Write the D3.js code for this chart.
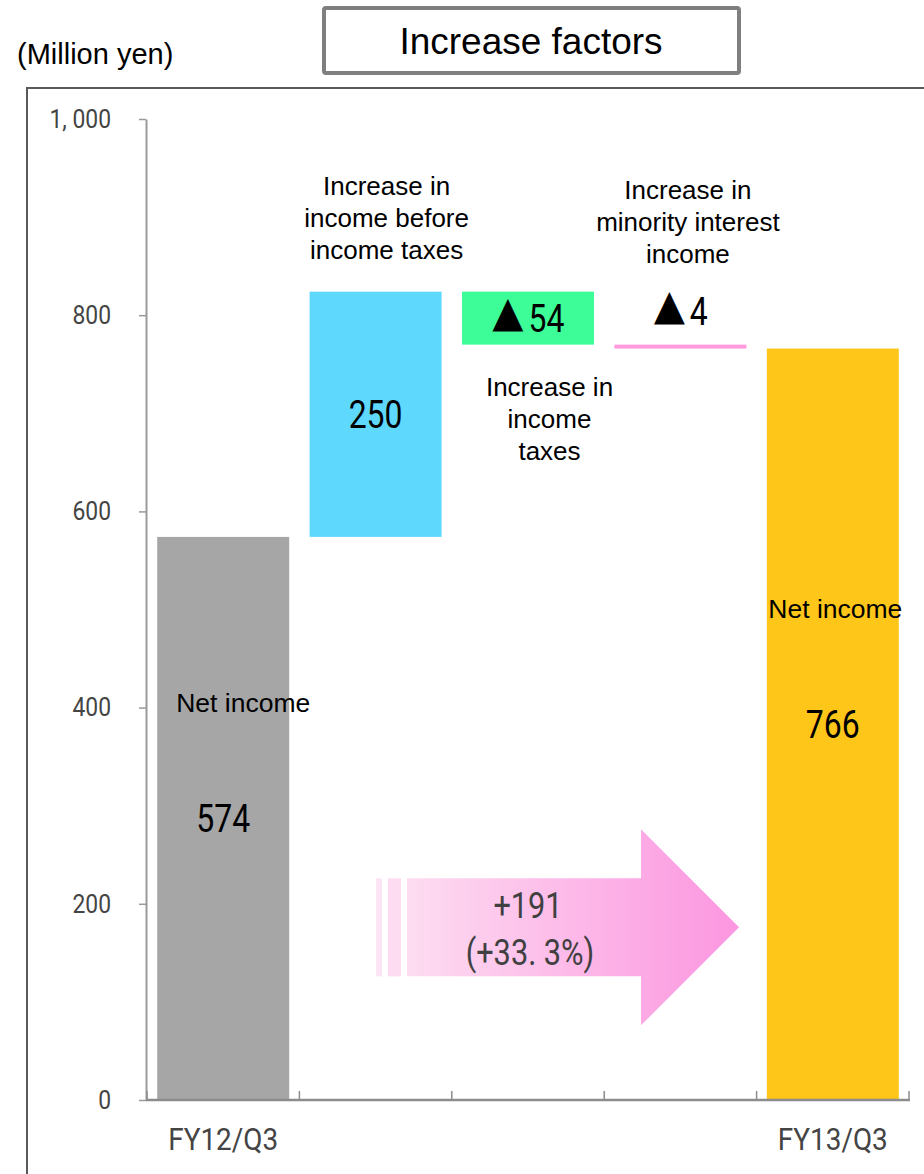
<!DOCTYPE html>
<html>
<head>
<meta charset="utf-8">
<script src="https://cdn.jsdelivr.net/npm/d3@7"></script>
<style>
  body { margin: 0; background: #fff; }
  svg { display: block; }
</style>
</head>
<body>
<svg id="chart" width="924" height="1174"></svg>
<script>
// ---- data ----
const categories = ["FY12/Q3", "Pretax income", "Income taxes", "Minority interest", "FY13/Q3"];
const axisLabels = ["FY12/Q3", "", "", "", "FY13/Q3"];
const kinds = ["total", "delta", "delta", "delta", "total"];
const amounts = [574, 250, -54, -4, 766];
const valueLabels = ["574", "250", "▲54", "▲4", "766"];
const barColors = ["#a6a6a6", "#5fd8fe", "#3dfd98", "#ff99dd", "#ffc61a"];
const factorNotes = [
  null,
  ["Increase in", "income before", "income taxes"],
  ["Increase in", "income", "taxes"],
  ["Increase in", "minority interest", "income"],
  null
];
const totalNote = "Net income";
const yTicks = [0, 200, 400, 600, 800, 1000];
const changeText = ["+191", "(+33. 3%)"];
const unitText = "(Million yen)";
const titleText = "Increase factors";

// ---- layout ----
const svg = d3.select("#chart");
const sans = "'Liberation Sans', Arial, sans-serif";
const narrow = "Roboto, 'Liberation Sans', sans-serif";
const cjk = "'Noto Sans CJK JP', sans-serif";

const x = d3.scaleBand()
  .domain(d3.range(categories.length))
  .range([147, 909])
  .paddingInner(0.134)
  .paddingOuter(0.067);

const y = d3.scaleLinear().domain([0, 1000]).range([1100, 119]);

// waterfall spans
let running = 0;
const bars = amounts.map((v, i) => {
  let lo, hi;
  if (kinds[i] === "total") { lo = 0; hi = v; running = v; }
  else { lo = running; hi = running + v; running = hi; }
  return { i, lo: Math.min(lo, hi), hi: Math.max(lo, hi), color: barColors[i], label: valueLabels[i] };
});

// outer frame
svg.append("rect")
  .attr("x", 27).attr("y", 88)
  .attr("width", 940).attr("height", 1120)
  .attr("fill", "none").attr("stroke", "#5a5a5a").attr("stroke-width", 2);

// title box
svg.append("rect")
  .attr("x", 324).attr("y", 8).attr("width", 415).attr("height", 65)
  .attr("rx", 2)
  .attr("fill", "#fff").attr("stroke", "#7f7f7f").attr("stroke-width", 4);
svg.append("text")
  .attr("x", 531).attr("y", 54)
  .attr("text-anchor", "middle")
  .attr("font-family", sans).attr("font-size", 37).attr("fill", "#000")
  .text(titleText);

svg.append("text")
  .attr("x", 17).attr("y", 64)
  .attr("font-family", sans).attr("font-size", 29).attr("fill", "#000")
  .text(unitText);

// y axis
const yAxis = svg.append("g")
  .attr("transform", "translate(146,0)")
  .call(d3.axisLeft(y).tickValues(yTicks).tickSize(7).tickSizeOuter(0)
    .tickFormat(d => d3.format(",")(d).replace(",", ", ")));
yAxis.select(".domain").attr("stroke", "#9a9a9a").attr("stroke-width", 2);
yAxis.selectAll(".tick line").attr("stroke", "#9a9a9a").attr("stroke-width", 1.5);
yAxis.selectAll(".tick text")
  .attr("x", -35 / 0.88)
  .attr("transform", "scale(0.88,1)")
  .attr("font-family", narrow).attr("font-size", 26).attr("fill", "#444");

// bars
svg.append("g").selectAll("rect")
  .data(bars)
  .join("rect")
  .attr("x", d => x(d.i))
  .attr("y", d => y(d.hi))
  .attr("width", x.bandwidth())
  .attr("height", d => y(d.lo) - y(d.hi))
  .attr("fill", d => d.color);

// x axis with category boundary ticks
const xAxisG = svg.append("g").attr("transform", "translate(0,1100)");
xAxisG.append("line")
  .attr("x1", 146).attr("x2", 910)
  .attr("stroke", "#8c8c8c").attr("stroke-width", 2.5);
const boundaries = d3.range(categories.length + 1).map(k => 147 + k * x.step());
xAxisG.selectAll("line.tk")
  .data(boundaries)
  .join("line")
  .attr("class", "tk")
  .attr("x1", d => d).attr("x2", d => d)
  .attr("y1", 0).attr("y2", -9)
  .attr("stroke", "#8c8c8c").attr("stroke-width", 1.5);
xAxisG.selectAll("text")
  .data(axisLabels.map((t, i) => ({ t, i })).filter(d => d.t))
  .join("text")
  .attr("transform", d => `translate(${x(d.i) + x.bandwidth() / 2},50) scale(0.9,1)`)
  .attr("text-anchor", "middle")
  .attr("font-family", narrow).attr("font-size", 31).attr("fill", "#444")
  .text(d => d.t);

// growth arrow from the first total to the last
const arrowMid = y(176), bodyHalf = 49, headHalf = 98;
const defs = svg.append("defs");
const grad = defs.append("linearGradient").attr("id", "arrowGrad")
  .attr("x1", "0%").attr("x2", "100%").attr("y1", "0%").attr("y2", "0%");
grad.append("stop").attr("offset", "0%").attr("stop-color", "#fddcf1");
grad.append("stop").attr("offset", "100%").attr("stop-color", "#fc96e0");
const ax0 = 407, axHead = 641, axTip = 739;
svg.append("rect").attr("x", 376).attr("y", arrowMid - bodyHalf)
  .attr("width", 6).attr("height", bodyHalf * 2).attr("fill", "#fde4f4");
svg.append("rect").attr("x", 388).attr("y", arrowMid - bodyHalf)
  .attr("width", 13).attr("height", bodyHalf * 2).attr("fill", "#fddcf1");
svg.append("path")
  .attr("d", d3.line()([
    [ax0, arrowMid - bodyHalf], [axHead, arrowMid - bodyHalf], [axHead, arrowMid - headHalf],
    [axTip, arrowMid], [axHead, arrowMid + headHalf], [axHead, arrowMid + bodyHalf],
    [ax0, arrowMid + bodyHalf]
  ]) + "Z")
  .attr("fill", "url(#arrowGrad)");
svg.append("text")
  .attr("transform", `translate(528,918) scale(0.83,1)`)
  .attr("text-anchor", "middle")
  .attr("font-family", narrow).attr("font-size", 37).attr("fill", "#404040")
  .text(changeText[0]);
svg.append("text")
  .attr("transform", `translate(530,965) scale(0.83,1)`)
  .attr("text-anchor", "middle")
  .attr("font-family", narrow).attr("font-size", 37).attr("fill", "#404040")
  .text(changeText[1]);

// value labels; the ▲ mark uses a full-width glyph
bars.forEach(d => {
  const cx = x(d.i) + x.bandwidth() / 2;
  const isThin = (y(d.lo) - y(d.hi)) < 20;
  const base = isThin ? y(d.hi) - 20 : (y(d.lo) + y(d.hi)) / 2 + 14;
  const t = svg.append("text")
    .attr("transform", `translate(${cx},${base}) scale(0.82,1)`)
    .attr("text-anchor", "middle")
    .attr("font-family", narrow).attr("font-size", 39).attr("fill", "#000");
  const m = d.label.match(/^(▲?)(.*)$/);
  if (m[1]) t.append("tspan").attr("font-family", cjk).attr("font-size", 40).text(m[1]);
  t.append("tspan").attr("dx", m[1] ? 5 : 0).text(m[2]);
  if (kinds[d.i] === "total") {
    const dx = d.i === 0 ? 20 : 2.5;
    svg.append("text")
      .attr("x", cx + dx).attr("y", base - 120)
      .attr("text-anchor", "middle")
      .attr("font-family", sans).attr("font-size", 26.5).attr("fill", "#000")
      .text(totalNote);
  }
});

// factor notes: above rising bars, below falling ones
const noteLayout = {
  1: { dx: 11, first: d => y(d.hi) - 33 - 64 },
  2: { dx: 21.5, first: d => y(d.lo) + 51 },
  3: { dx: 7.5, first: d => y(d.hi) - 82 - 64 }
};
bars.forEach(d => {
  const lines = factorNotes[d.i];
  if (!lines) return;
  const lay = noteLayout[d.i];
  const cx = x(d.i) + x.bandwidth() / 2 + lay.dx;
  const t = svg.append("text")
    .attr("text-anchor", "middle")
    .attr("font-family", sans).attr("font-size", 26).attr("fill", "#000");
  lines.forEach((ln, k) => {
    t.append("tspan").attr("x", cx).attr("y", lay.first(d) + k * 32).text(ln);
  });
});
</script>
</body>
</html>
